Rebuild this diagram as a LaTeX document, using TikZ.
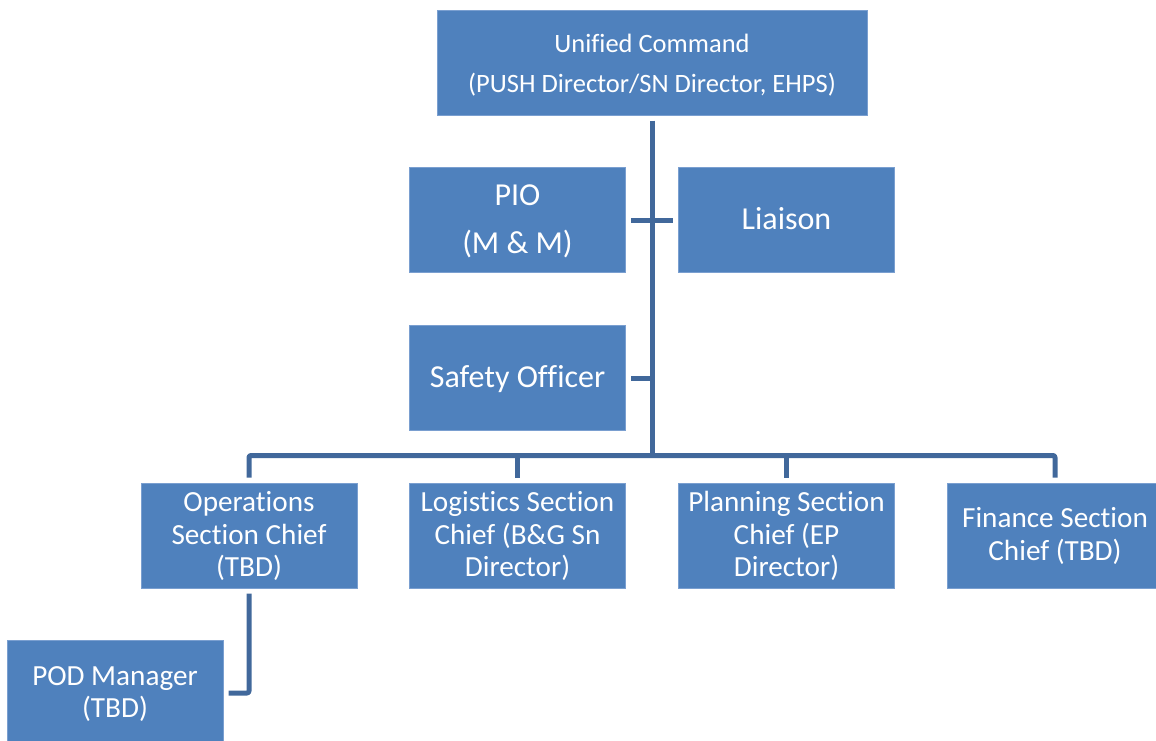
\documentclass[tikz,border=0pt]{standalone}
\usepackage{fontspec}
\setmainfont{Carlito}[Ligatures=CommonOff]
\definecolor{boxfill}{HTML}{4F81BD}
\definecolor{boxedge}{HTML}{7A9FD0}
\definecolor{linkcol}{HTML}{41689B}
\begin{document}
\begin{tikzpicture}[x=1pt,y=-1pt,
  orgbox/.style={rectangle, fill=boxfill, draw=boxedge, line width=0.8pt,
    text=white, align=center, minimum width=216pt, minimum height=105pt,
    inner sep=0pt, outer sep=5.5pt},
  txtup/.style={execute at begin node={\rule{0pt}{#1}}},
  txtdn/.style={execute at end node={\rule[-#1]{0pt}{#1}}},
  uctxt/.style={font=\fontsize{26.5}{40}\selectfont, txtup=67pt, txtdn=8pt},
  bigtxt/.style={font=\fontsize{32}{48}\selectfont, txtup=#1, txtdn=9pt},
  midtxt/.style={font=\fontsize{29.2}{32.5}\selectfont, txtup=#1, txtdn=9pt},
  link/.style={draw=linkcol, line width=5pt, line join=round},
]
\useasboundingbox (0,0) rectangle (1156,740);
\node[orgbox, minimum width=430pt, uctxt] (uc) at (652,62.5)
  {Unified Command\\(PUSH Director/SN Director, EHPS)};
\node[orgbox, bigtxt=75pt] (pio) at (517.5,220) {PIO\\(M \& M)};
\node[orgbox, bigtxt=27pt] (lia) at (786.5,220) {Liaison};
\node[orgbox, bigtxt=27pt] (saf) at (517.5,378) {Safety Officer};
\node[orgbox, midtxt=91pt] (ops) at (249,535.5) {Operations\\Section Chief\\(TBD)};
\node[orgbox, midtxt=91pt] (log) at (517.5,535.5) {Logistics Section\\Chief (B\&G Sn\\Director)};
\node[orgbox, midtxt=91pt] (pln) at (786.5,535.5) {Planning Section\\Chief (EP\\Director)};
\node[orgbox, midtxt=58.5pt] (fin) at (1055,535.5) {Finance Section\\Chief (TBD)};
\node[orgbox, midtxt=58.5pt] (pod) at (115,693) {POD Manager\\(TBD)};
\coordinate (bus) at (652,455.5);
\coordinate (sj) at (652,378);
\draw[link] (uc.south) -- (bus);
\draw[link] (pio.east) -- (lia.west);
\draw[link] (saf.east) -- (sj);
\draw[link, rounded corners=2pt] (ops.north) |- (bus) -| (fin.north);
\draw[link] (log.north) |- (bus);
\draw[link] (pln.north) |- (bus);
\draw[link, rounded corners=2pt] (ops.south) |- (pod.east);
\end{tikzpicture}
\end{document}
